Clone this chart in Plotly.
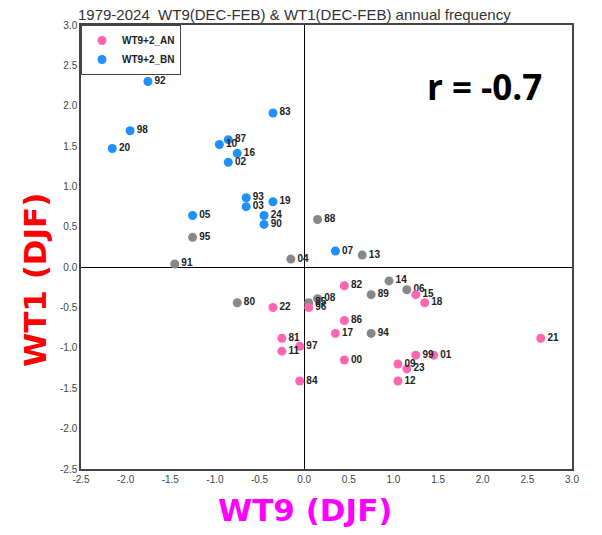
import plotly.graph_objects as go

# ---- data ----
bn_years = ["92", "83", "98", "20", "87", "10", "16", "02", "93", "03", "19", "24", "90", "05", "07"]
bn_x = [-1.75, -0.35, -1.95, -2.15, -0.85, -0.95, -0.75, -0.85, -0.65, -0.65, -0.35, -0.45, -0.45, -1.25, 0.35]
bn_y = [2.30, 1.91, 1.69, 1.47, 1.58, 1.52, 1.41, 1.30, 0.86, 0.75, 0.81, 0.64, 0.53, 0.64, 0.20]

an_years = ["82", "15", "18", "22", "96", "86", "17", "81", "97", "11", "21", "99", "01", "00", "09", "23", "12", "84"]
an_x = [0.45, 1.25, 1.35, -0.35, 0.05, 0.45, 0.35, -0.25, -0.05, -0.25, 2.65, 1.25, 1.45, 0.45, 1.05, 1.15, 1.05, -0.05]
an_y = [-0.23, -0.34, -0.44, -0.50, -0.50, -0.66, -0.82, -0.88, -0.98, -1.04, -0.88, -1.09, -1.09, -1.15, -1.20, -1.26, -1.41, -1.41]

nn_years = ["95", "91", "88", "04", "13", "14", "06", "89", "80", "08", "85", "94"]
nn_x = [-1.25, -1.45, 0.15, -0.15, 0.65, 0.95, 1.15, 0.75, -0.75, 0.15, 0.05, 0.75]
nn_y = [0.37, 0.04, 0.59, 0.10, 0.15, -0.17, -0.28, -0.34, -0.44, -0.39, -0.44, -0.82]

tick_vals = [-2.5, -2.0, -1.5, -1.0, -0.5, 0.0, 0.5, 1.0, 1.5, 2.0, 2.5, 3.0]
tick_text = ["-2.5", "-2.0", "-1.5", "-1.0", "-0.5", "0.0", "0.5", "1.0", "1.5", "2.0", "2.5", "3.0"]

title_text = "1979-2024  WT9(DEC-FEB) & WT1(DEC-FEB) annual frequency"
r_text = "r = -0.7"

label_font = dict(family="Liberation Sans, Arial", size=10, color="#222222", weight="bold")

fig = go.Figure()
fig.add_trace(go.Scatter(
    x=nn_x, y=nn_y, text=nn_years, mode="markers+text", textposition="middle right",
    marker=dict(size=9, color="#888888"), textfont=label_font, showlegend=False, hoverinfo="skip"))
fig.add_trace(go.Scatter(
    x=an_x, y=an_y, text=an_years, mode="markers+text", textposition="middle right",
    marker=dict(size=9, color="#FF66B2"), textfont=label_font, name="WT9+2_AN"))
fig.add_trace(go.Scatter(
    x=bn_x, y=bn_y, text=bn_years, mode="markers+text", textposition="middle right",
    marker=dict(size=9, color="#1E90FF"), textfont=label_font, name="WT9+2_BN"))

axis_common = dict(
    range=[-2.5, 3.0], tickvals=tick_vals, ticktext=tick_text, showgrid=False,
    zeroline=True, zerolinecolor="#000000", zerolinewidth=1,
    showline=True, mirror=True, linecolor="#444444", linewidth=1.5,
    ticks="", tickfont=dict(family="Liberation Sans, Arial", size=10, color="#444444"),
)

fig.update_layout(
    width=602, height=535,
    margin=dict(l=81, r=30, t=25, b=66),
    paper_bgcolor="white", plot_bgcolor="white",
    xaxis=dict(**axis_common),
    yaxis=dict(**axis_common),
    title=dict(text=title_text, xref="container", x=78 / 602, xanchor="left",
               yref="container", y=0.973, yanchor="middle",
               font=dict(family="Liberation Sans, Arial", size=15, color="#333333")),
    legend=dict(x=0, y=1, xanchor="left", yanchor="top", bgcolor="white",
                bordercolor="#444444", borderwidth=1,
                font=dict(family="Liberation Sans, Arial", size=10, color="#222222", weight="bold"),
                itemwidth=30, tracegroupgap=0, traceorder="normal"),
    showlegend=True,
    annotations=[
        dict(text=r_text, xref="paper", yref="paper", x=0.822, y=0.8626,
             xanchor="center", yanchor="middle", showarrow=False,
             font=dict(family="Open Sans, Lato", size=35, color="#000000", weight="bold")),
        dict(text="WT9 (DJF)", xref="paper", yref="paper", x=0.457, y=-0.092,
             xanchor="center", yanchor="middle", showarrow=False,
             font=dict(family="DejaVu Sans", size=31, color="#FF00FF", weight="bold")),
        dict(text="WT1 (DJF)", xref="paper", yref="paper", x=-0.0936, y=0.4257,
             xanchor="center", yanchor="middle", showarrow=False, textangle=-90,
             font=dict(family="DejaVu Sans", size=31, color="#FF0000", weight="bold")),
    ],
)

fig.write_html("out.html")
